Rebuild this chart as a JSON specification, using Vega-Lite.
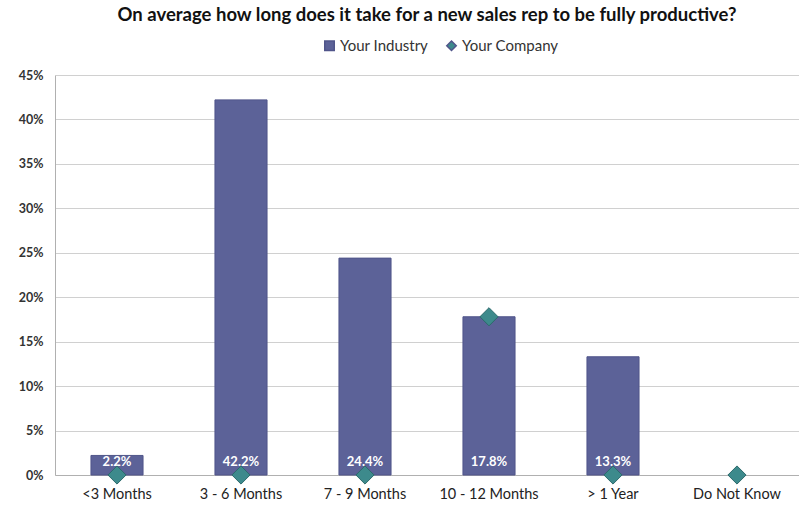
{
  "$schema": "https://vega.github.io/schema/vega-lite/v6.json",
  "width": 744,
  "height": 400,
  "autosize": {"type": "none"},
  "padding": {"left": 55, "top": 75, "right": 0, "bottom": 33},
  "background": "white",
  "title": {
    "text": "On average how long does it take for a new sales rep to be fully productive?",
    "font": "Lato",
    "fontSize": 18.5,
    "fontWeight": "bold",
    "color": "#111111",
    "anchor": "middle",
    "frame": "group",
    "offset": 14
  },
  "config": {
    "view": {"stroke": null},
    "axis": {"labelFont": "Lato", "titleFont": "Lato"},
    "legend": {"labelFont": "Lato"}
  },
  "data": {
    "values": [
      {"category": "<3 Months", "series": "Your Industry", "value": 0.022},
      {"category": "3 - 6 Months", "series": "Your Industry", "value": 0.422},
      {"category": "7 - 9 Months", "series": "Your Industry", "value": 0.244},
      {"category": "10 - 12 Months", "series": "Your Industry", "value": 0.178},
      {"category": "> 1 Year", "series": "Your Industry", "value": 0.133},
      {"category": "Do Not Know", "series": "Your Industry", "value": 0},
      {"category": "<3 Months", "series": "Your Company", "value": 0},
      {"category": "3 - 6 Months", "series": "Your Company", "value": 0},
      {"category": "7 - 9 Months", "series": "Your Company", "value": 0},
      {"category": "10 - 12 Months", "series": "Your Company", "value": 0.178},
      {"category": "> 1 Year", "series": "Your Company", "value": 0},
      {"category": "Do Not Know", "series": "Your Company", "value": 0}
    ]
  },
  "encoding": {
    "x": {
      "field": "category",
      "type": "nominal",
      "sort": ["<3 Months", "3 - 6 Months", "7 - 9 Months", "10 - 12 Months", "> 1 Year", "Do Not Know"],
      "scale": {"paddingInner": 0.58, "paddingOuter": 0.29},
      "axis": {
        "title": null,
        "labelAngle": 0,
        "labelFontSize": 14.5,
        "labelColor": "#222222",
        "labelPadding": 12,
        "ticks": false,
        "domainColor": "#b0b0b0",
        "grid": false
      }
    }
  },
  "layer": [
    {
      "transform": [{"filter": "datum.series === 'Your Industry' && datum.value > 0"}],
      "mark": {"type": "bar", "stroke": "#50558a", "strokeWidth": 1},
      "encoding": {
        "y": {
          "field": "value",
          "type": "quantitative",
          "scale": {"domain": [0, 0.45]},
          "axis": {
            "title": null,
            "values": [0, 0.05, 0.1, 0.15, 0.2, 0.25, 0.3, 0.35, 0.4, 0.45],
            "format": ".0%",
            "labelFontSize": 12.5,
            "labelFontWeight": "bold",
            "labelColor": "#333333",
            "labelPadding": 12,
            "ticks": false,
            "domainColor": "#b0b0b0",
            "gridColor": "#d0d0d0"
          }
        },
        "color": {
          "field": "series",
          "type": "nominal",
          "scale": {"domain": ["Your Industry", "Your Company"], "range": ["#5c6298", "#3d8a8c"]},
          "legend": {
            "title": null,
            "orient": "none",
            "legendX": 267,
            "legendY": -37,
            "direction": "horizontal",
            "labelFontSize": 15,
            "labelColor": "#333333",
            "symbolSize": 90,
            "columnPadding": 14,
            "labelOffset": 3
          }
        }
      }
    },
    {
      "transform": [{"filter": "datum.series === 'Your Industry' && datum.value > 0"}],
      "mark": {"type": "text", "color": "white", "fontWeight": "bold", "fontSize": 13, "font": "Lato", "dy": -13},
      "encoding": {
        "y": {"datum": 0},
        "text": {"field": "value", "type": "quantitative", "format": ".1%"}
      }
    },
    {
      "transform": [{"filter": "datum.series === 'Your Company'"}],
      "mark": {"type": "point", "filled": true, "size": 330, "stroke": "#2c6a6c", "strokeWidth": 1, "opacity": 1},
      "encoding": {
        "y": {"field": "value", "type": "quantitative"},
        "color": {"field": "series", "type": "nominal"},
        "shape": {
          "field": "series",
          "type": "nominal",
          "scale": {"domain": ["Your Industry", "Your Company"], "range": ["square", "diamond"]},
          "legend": {
            "title": null,
            "orient": "none",
            "legendX": 267,
            "legendY": -37,
            "direction": "horizontal",
            "labelFontSize": 15,
            "labelColor": "#333333",
            "symbolSize": 90,
            "columnPadding": 14,
            "labelOffset": 3
          }
        }
      }
    }
  ]
}
